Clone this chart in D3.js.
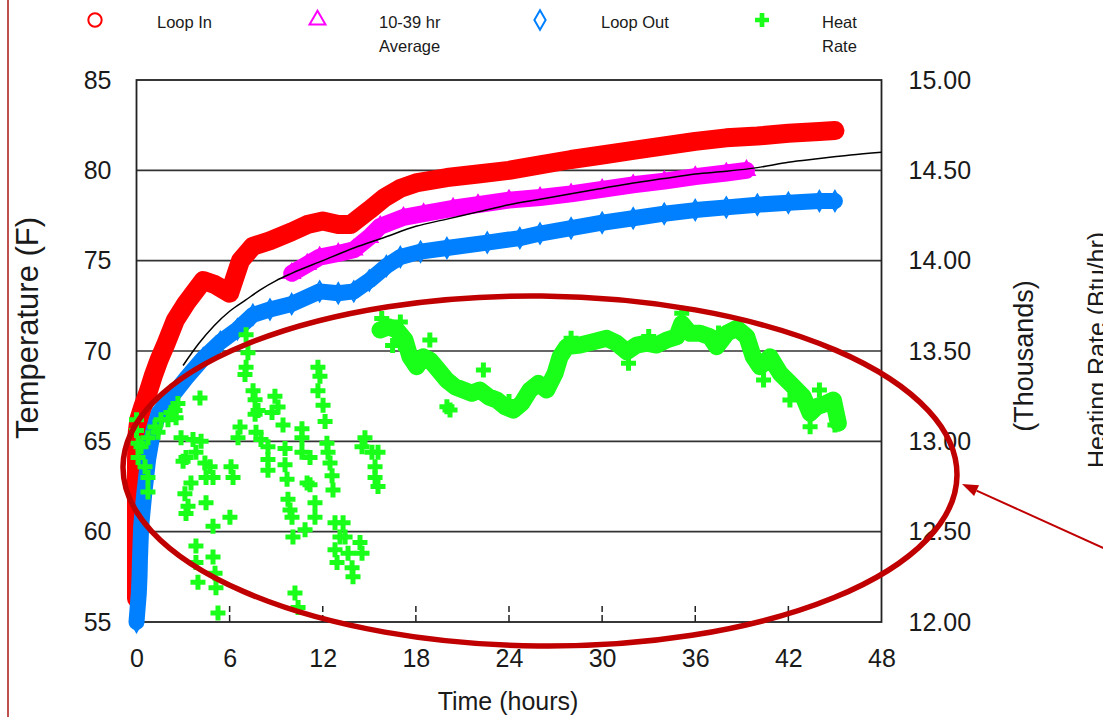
<!DOCTYPE html>
<html>
<head>
<meta charset="utf-8">
<script src="https://cdn.jsdelivr.net/npm/d3@7"></script>
<style>
  html, body { margin: 0; padding: 0; background: #fff; }
  svg { display: block; font-family: 'Liberation Sans', Arial, sans-serif; }
</style>
</head>
<body>
<svg id="chart"></svg>
<script>
// values (time in hours, temperature in F, heat rate in thousands Btu/hr)
const loopInTime = [0, 0, 0, 0, 0, 0.05, 0.15, 0.4, 0.74, 1.07, 1.45, 1.9, 2.5, 3.2, 4.3, 5, 5.4, 6, 6.7, 7.5, 8.6, 10, 11, 12, 13, 13.8, 15, 16, 17, 18, 20, 22, 24, 26, 28, 30, 32, 34, 36, 38, 40, 42, 44, 45]
const loopInTemp = [56.3, 58, 60, 62, 64, 65.5, 66.2, 66.9, 67.7, 68.6, 69.5, 70.4, 71.7, 72.65, 73.9, 73.7, 73.5, 73.2, 75.0, 75.8, 76.1, 76.6, 77.0, 77.2, 77.0, 77.0, 77.8, 78.5, 79.0, 79.3, 79.6, 79.8, 80.0, 80.3, 80.6, 80.85, 81.1, 81.35, 81.6, 81.8, 81.9, 82.05, 82.15, 82.2]

const avgTime = [10, 11, 11.8, 13, 14, 15, 15.7, 17.2, 18.5, 20.4, 22, 24, 26, 28, 30, 32, 34, 36, 38, 39.3]
const avgTemp = [74.3, 74.8, 75.2, 75.4, 75.6, 76.3, 76.9, 77.4, 77.6, 77.9, 78.1, 78.35, 78.5, 78.7, 78.95, 79.2, 79.4, 79.65, 79.85, 80.0]

const loopOutTime = [0, 0.15, 0.2, 0.22, 0.3, 0.5, 0.75, 1.05, 1.45, 2.1, 3.2, 4.3, 5.4, 6.5, 7.5, 8.6, 10, 11.8, 13, 14, 15, 16.1, 17, 18.3, 20, 22.6, 24.7, 26, 28, 30, 32, 34, 36, 38, 40, 42, 44, 45]
const loopOutTemp = [55, 56.6, 57.6, 58.4, 60.3, 62.1, 64.0, 65.5, 66.6, 67.3, 68.5, 69.6, 70.5, 71.2, 72.0, 72.3, 72.6, 73.3, 73.2, 73.3, 73.9, 74.7, 75.2, 75.5, 75.7, 76.0, 76.25, 76.5, 76.8, 77.1, 77.35, 77.6, 77.8, 77.95, 78.1, 78.2, 78.3, 78.3]

const fitTime = [3, 4, 5, 6, 7, 8, 9, 10, 12, 14, 16, 18, 20, 22, 24, 26, 28, 30, 32, 34, 36, 38, 40, 42, 44, 46, 48]
const fitTemp = [69.2, 70.4, 71.4, 72.2, 72.8, 73.4, 73.9, 74.3, 75.0, 75.7, 76.3, 76.9, 77.3, 77.7, 78.1, 78.4, 78.7, 79.0, 79.3, 79.55, 79.8, 79.95, 80.15, 80.45, 80.65, 80.85, 81.0]

// scattered heat rate points in the first 16 hours
const heatScatterTime = [7.06, 7.18, 7.06, 6.99, 7.51, 7.64, 7.83, 7.64, 4.09, 6.67, 6.54, 7.70, 8.02, 2.67, 2.55, 2.87, 3.64, 4.16, 3.19, 3.0, 3.83, 4.41, 4.74, 4.48, 4.93, 3.51, 3.12, 6.09, 6.22, 3.32, 3.19, 4.48, 6.02, 4.93, 3.83, 3.83, 4.93, 5.06, 3.96, 5.12, 5.25,
  2.22, 1.58, 1.19, 0.74, 0.29, 0.1, 0.55, 0.74, 0.74, 0, 0, 0.1, 1.39, 2.03, 2.48,
  11.69, 11.82, 11.69, 12.02, 12.15, 8.92, 9.12, 8.73, 9.44, 10.66, 10.66, 8.47, 8.47, 8.47, 9.57, 9.57, 9.70, 10.66, 11.18, 10.99, 11.18, 12.27, 12.34, 12.47, 12.60, 12.66,
  14.72, 14.53, 15.17, 15.56, 15.37, 15.37, 15.56, 9.76, 9.89, 10.02, 10.08, 10.86, 11.50, 11.50, 12.79, 13.31, 13.11, 12.79, 12.92, 13.63, 13.89, 14.40, 14.53, 13.95, 13.44, 10.21, 10.41]
const heatScatterRate = [13.59, 13.49, 13.41, 13.37, 13.28, 13.23, 13.17, 13.15, 13.24, 13.08, 13.02, 13.05, 13.01, 13.21, 13.13, 13.02, 13.01, 13.00, 12.91, 12.89, 12.94, 12.88, 12.86, 12.80, 12.80, 12.77, 12.71, 12.86, 12.80, 12.64, 12.60, 12.66, 12.58, 12.53, 12.42, 12.33, 12.36, 12.27, 12.22, 12.19, 12.05,
  13.16, 13.12, 13.08, 13.02, 12.97, 12.91, 12.86, 12.80, 12.72, 13.12, 13.06, 12.99, 13.05, 13.12, 13.17,
  13.41, 13.36, 13.28, 13.20, 13.11, 13.25, 13.19, 13.16, 13.09, 13.07, 13.02, 12.97, 12.90, 12.84, 12.96, 12.87, 12.79, 12.94, 12.91, 12.77, 12.76, 12.99, 12.94, 12.88, 12.81, 12.73,
  13.02, 12.97, 12.94, 12.94, 12.86, 12.80, 12.75, 12.68, 12.62, 12.58, 12.47, 12.51, 12.66, 12.58, 12.55, 12.55, 12.47, 12.40, 12.33, 12.38, 12.30, 12.44, 12.38, 12.25, 12.47, 12.16, 12.08]

// dense heat rate band after 15.6 hours
const heatBandTime = [15.69, 16.23, 16.77, 17.30, 17.62, 18.05, 18.48, 18.91, 19.45, 19.99, 20.52, 21.06, 21.60, 22.13, 22.67, 23.21, 23.74, 24.28, 24.82, 25.35, 25.89, 26.43, 26.97, 27.29, 27.72, 28.58, 29.43, 30.30, 30.94, 31.59, 32.23, 32.87, 33.52, 34.16, 34.81, 35.13, 35.66, 36.31, 36.95, 37.38, 38.03, 38.67, 39.32, 39.74, 40.17, 40.82, 41.46, 42.11, 42.54, 42.96, 43.40, 43.83, 44.47, 44.90, 45.22]
const heatBandRate = [13.616, 13.634, 13.616, 13.561, 13.468, 13.413, 13.468, 13.450, 13.395, 13.339, 13.302, 13.284, 13.266, 13.284, 13.247, 13.229, 13.192, 13.173, 13.211, 13.284, 13.321, 13.284, 13.377, 13.468, 13.524, 13.533, 13.551, 13.570, 13.543, 13.496, 13.533, 13.543, 13.533, 13.561, 13.579, 13.653, 13.598, 13.598, 13.579, 13.524, 13.598, 13.626, 13.579, 13.468, 13.413, 13.468, 13.377, 13.321, 13.284, 13.247, 13.155, 13.192, 13.211, 13.229, 13.100]
const heatBandExtraTime = [18.9, 20.2, 22.35, 31.7, 35.13, 43.4, 45.0, 17.0, 20.0, 40.4, 42.1, 44.0, 15.8, 16.5, 17.0, 24.0, 28.0, 33.0, 37.5]
const heatBandExtraRate = [13.561, 13.173, 13.395, 13.432, 13.709, 13.081, 13.090, 13.543, 13.192, 13.339, 13.229, 13.284, 13.68, 13.53, 13.66, 13.22, 13.57, 13.58, 13.60]

const timeTicks = [0, 6, 12, 18, 24, 30, 36, 42, 48]
const tempTicks = [55, 60, 65, 70, 75, 80, 85]
const rateTicks = [12, 12.5, 13, 13.5, 14, 14.5, 15]

const zip = (a, b) => a.map((v, i) => ({ t: v, v: b[i] }))

const [sizeX, sizeY] = [1103, 717]
const svg = d3.select('svg#chart')
  .attr('width', sizeX)
  .attr('height', sizeY)
  .attr('viewBox', `0 0 ${sizeX} ${sizeY}`)

const plot = { left: 136.5, right: 881.5, top: 80, bottom: 622 }
const x = d3.scaleLinear().domain([0, 48]).range([plot.left, plot.right])
const yL = d3.scaleLinear().domain([55, 85]).range([plot.bottom, plot.top])
const yR = d3.scaleLinear().domain([12, 15]).range([plot.bottom, plot.top])

const RED = '#ff0000', MAGENTA = '#ff00ff', BLUE = '#0080ff', GREEN = '#1aff1a', NOTE = '#c00000'
const TEXT = '#1a1a1a'

// thin border at the very left of the slide
svg.append('line')
  .attr('x1', 8).attr('x2', 8).attr('y1', 0).attr('y2', sizeY)
  .attr('stroke', '#c0504d').attr('stroke-width', 2)

// gridlines
svg.append('g')
  .selectAll('line')
  .data(tempTicks.slice(1, -1))
  .join('line')
  .attr('x1', plot.left).attr('x2', plot.right)
  .attr('y1', d => yL(d)).attr('y2', d => yL(d))
  .attr('stroke', '#333').attr('stroke-width', 1.6)

// inner dashed time ticks
svg.append('g')
  .selectAll('line')
  .data(timeTicks.slice(1, -1))
  .join('line')
  .attr('x1', d => x(d)).attr('x2', d => x(d))
  .attr('y1', plot.bottom).attr('y2', plot.bottom - 16)
  .attr('stroke', '#222').attr('stroke-width', 1.5)
  .attr('stroke-dasharray', '7,3')

// frame
svg.append('rect')
  .attr('x', plot.left).attr('y', plot.top)
  .attr('width', plot.right - plot.left).attr('height', plot.bottom - plot.top)
  .attr('fill', 'none').attr('stroke', '#222').attr('stroke-width', 1.8)

// axes (labels only)
const styleAxis = g => {
  g.select('.domain').remove()
  g.selectAll('.tick line').remove()
  g.selectAll('text').attr('fill', TEXT).style('font-size', '25px')
    .style('font-family', "'Liberation Sans', Arial, sans-serif")
}
svg.append('g')
  .attr('transform', `translate(${plot.left}, 0)`)
  .call(d3.axisLeft(yL).tickValues(tempTicks).tickSize(0).tickPadding(25).tickFormat(d3.format('d')))
  .call(styleAxis)
svg.append('g')
  .attr('transform', `translate(${plot.right}, 0)`)
  .call(d3.axisRight(yR).tickValues(rateTicks).tickSize(0).tickPadding(27).tickFormat(d3.format('.2f')))
  .call(styleAxis)
svg.append('g')
  .attr('transform', `translate(0, ${plot.bottom})`)
  .call(d3.axisBottom(x).tickValues(timeTicks).tickSize(0).tickPadding(27).tickFormat(d3.format('d')))
  .call(styleAxis)

// axis titles
const title = (tx, ty, rot, size, txt) => svg.append('text')
  .attr('transform', `translate(${tx}, ${ty}) rotate(${rot})`)
  .attr('text-anchor', 'middle')
  .attr('fill', TEXT)
  .style('font-size', size + 'px')
  .text(txt)
title(38, 328, -90, 31, 'Temperature (F)')
title(508, 710, 0, 25, 'Time (hours)')
title(1033, 356, -90, 27, '(Thousands)')
title(1106, 350, -90, 25, 'Heating Rate (Btu/hr)')

// series
const band = (pts, yScale, color, width) => {
  svg.append('path')
    .datum(pts)
    .attr('fill', 'none')
    .attr('stroke', color)
    .attr('stroke-width', width)
    .attr('stroke-linejoin', 'round')
    .attr('stroke-linecap', 'round')
    .attr('d', d3.line().x(d => x(d.t)).y(d => yScale(d.v)))
}
const marks = (pts, yScale, type, size, color, filled) => {
  svg.append('g')
    .selectAll('path')
    .data(pts)
    .join('path')
    .attr('transform', d => `translate(${x(d.t)}, ${yScale(d.v)})`)
    .attr('d', d3.symbol(type, size))
    .attr('fill', filled ? color : 'none')
    .attr('stroke', filled ? 'none' : color)
    .attr('stroke-width', 1.8)
}

const loopIn = zip(loopInTime, loopInTemp)
const avg = zip(avgTime, avgTemp)
const loopOut = zip(loopOutTime, loopOutTemp)
const fit = zip(fitTime, fitTemp)
const heatScatter = zip(heatScatterTime, heatScatterRate)
const heatBand = zip(heatBandTime, heatBandRate)
const heatExtra = zip(heatBandExtraTime, heatBandExtraRate)

band(loopIn, yL, RED, 19)
marks(loopIn, yL, d3.symbolCircle, 150, RED, false)
band(avg, yL, MAGENTA, 17)
marks(avg, yL, d3.symbolTriangle, 120, MAGENTA, false)
band(loopOut, yL, BLUE, 16)
marks(loopOut, yL, d3.symbolDiamond, 120, BLUE, false)

band(heatBand, yR, GREEN, 17)
marks(heatBand, yR, d3.symbolCross, 125, GREEN, true)
marks(heatExtra, yR, d3.symbolCross, 125, GREEN, true)
marks(heatScatter, yR, d3.symbolCross, 125, GREEN, true)

svg.append('path')
  .datum(fit)
  .attr('fill', 'none')
  .attr('stroke', '#000')
  .attr('stroke-width', 1.5)
  .attr('d', d3.line().x(d => x(d.t)).y(d => yL(d.v)).curve(d3.curveMonotoneX))

// legend
const legend = [
  { name: ['Loop In'], color: RED, type: d3.symbolCircle, size: 140, mx: 95, tx: 157 },
  { name: ['10-39 hr', 'Average'], color: MAGENTA, type: d3.symbolTriangle, size: 110, mx: 317.5, tx: 379 },
  { name: ['Loop Out'], color: BLUE, type: d3.symbolDiamond, size: 110, mx: 540, tx: 601 },
  { name: ['Heat', 'Rate'], color: GREEN, type: d3.symbolCross, size: 110, mx: 762, tx: 822, filled: true }
]
const items = svg.append('g').selectAll('g').data(legend).join('g')
items.append('path')
  .attr('transform', d => `translate(${d.mx}, 20)`)
  .attr('d', d => d3.symbol(d.type, d.size)())
  .attr('fill', d => d.filled ? d.color : 'none')
  .attr('stroke', d => d.filled ? 'none' : d.color)
  .attr('stroke-width', 2)
items.append('text')
  .attr('x', d => d.tx)
  .attr('y', 28)
  .attr('fill', TEXT)
  .style('font-size', '16.5px')
  .selectAll('tspan')
  .data(d => d.name.map(n => ({ n, tx: d.tx })))
  .join('tspan')
  .attr('x', d => d.tx)
  .attr('dy', (_, i) => i ? 24 : 0)
  .text(d => d.n)

// annotation: ellipse around heat rate and arrow
svg.append('ellipse')
  .attr('cx', 540).attr('cy', 471)
  .attr('rx', 417).attr('ry', 175)
  .attr('transform', 'rotate(0.6 540 471)')
  .attr('fill', 'none')
  .attr('stroke', NOTE)
  .attr('stroke-width', 5.5)

const tip = [962, 484], tail = [1112, 552]
const len = Math.hypot(tail[0] - tip[0], tail[1] - tip[1])
const dir = [(tip[0] - tail[0]) / len, (tip[1] - tail[1]) / len]
const base = [tip[0] - dir[0] * 16, tip[1] - dir[1] * 16]
svg.append('line')
  .attr('x1', tail[0]).attr('y1', tail[1])
  .attr('x2', base[0]).attr('y2', base[1])
  .attr('stroke', NOTE).attr('stroke-width', 2)
svg.append('path')
  .attr('d', `M${tip[0]},${tip[1]}L${base[0] - dir[1] * 6},${base[1] + dir[0] * 6}L${base[0] + dir[1] * 6},${base[1] - dir[0] * 6}Z`)
  .attr('fill', NOTE)
</script>
</body>
</html>
